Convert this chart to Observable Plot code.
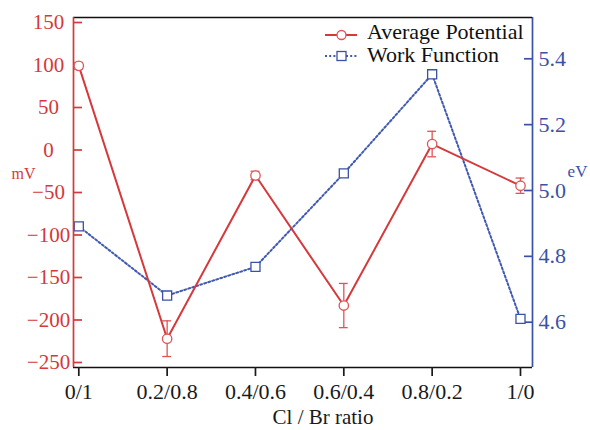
<!DOCTYPE html>
<html><head><meta charset="utf-8">
<script src="https://cdn.jsdelivr.net/npm/d3@7"></script>
<script src="https://cdn.jsdelivr.net/npm/@observablehq/plot@0.6"></script>
<style>
body{margin:0;background:#fff;}
#wrap{position:relative;width:590px;height:430px;overflow:hidden;}
#wrap svg{position:absolute;left:0;top:0;}
</style></head><body><div id="wrap"></div>
<script>
const ratios = ["0/1","0.2/0.8","0.4/0.6","0.6/0.4","0.8/0.2","1/0"];
const avgPotential = [99, -222, -30, -183, 7, -42];
const avgPotentialErr = [4, 21, 5, 26, 15, 9];
const workFunction = [4.891, 4.681, 4.768, 5.052, 5.353, 4.610];
const mVTicks = [150,100,50,0,-50,-100,-150,-200,-250];
const eVTicks = [4.6,4.8,5.0,5.2,5.4];
const seriesNames = ["Average Potential","Work Function"];

const RED = "#d5393b", RED2 = "#df5357", BLUE = "#3a52a6", BLUE2 = "#4059b2";
const xDomain = [-0.06, 5.136];
const mVDomain = [-255.9, 155.9];
const eVDomain = [4.4624, 5.5254];

const ap = ratios.map((r,i)=>({i, v: avgPotential[i], e: avgPotentialErr[i]}));
const wf = ratios.map((r,i)=>({i, v: workFunction[i]}));

const common = {
  width:590, height:430, marginTop:17, marginBottom:63, marginLeft:73, marginRight:58,
  style:{background:"transparent", fontFamily:"'Liberation Serif', 'Times New Roman', serif", overflow:"visible"}
};

const bluePlot = Plot.plot({
  ...common,
  x:{domain:xDomain, axis:null, label:null},
  y:{domain:eVDomain, axis:null, label:null},
  marks:[
    Plot.ruleX([xDomain[1]], {stroke:BLUE, strokeWidth:1.7}),
    Plot.axisY(eVTicks, {anchor:"right", tickSize:9, dx:-9, tickFormat:()=>"", color:BLUE, strokeWidth:1.7, label:null}),
    Plot.axisY(eVTicks, {anchor:"right", tickSize:0, tickPadding:6, tickFormat:d=>d.toFixed(1), color:BLUE, fontSize:22, label:null}),
    Plot.line(wf, {x:"i", y:"v", stroke:BLUE2, strokeWidth:2, strokeDasharray:"2,2.2"}),
    Plot.dot(wf, {x:"i", y:"v", symbol:"square", r:5.1, stroke:BLUE, fill:"white", strokeWidth:1.3}),
    Plot.text(["eV"], {frameAnchor:"right", text:d=>d, textAnchor:"middle", lineAnchor:"middle", dx:45, dy:-21, fill:BLUE, fontSize:17})
  ]
});

const redPlot = Plot.plot({
  ...common,
  x:{domain:xDomain, label:null},
  y:{domain:mVDomain, label:null},
  marks:[
    Plot.ruleY([mVDomain[1]], {stroke:"#111", strokeWidth:1.7}),
    Plot.ruleY([mVDomain[0]], {stroke:"#111", strokeWidth:1.7}),
    Plot.ruleX([xDomain[0]], {stroke:RED, strokeWidth:1.7}),
    Plot.axisX(d3.range(ratios.length), {tickSize:9, tickPadding:7, tickFormat:i=>ratios[i], fontSize:22, color:"#1a1a1a", strokeWidth:1.7, label:null}),
    Plot.axisY(mVTicks, {anchor:"left", tickSize:9, dx:9, tickFormat:()=>"", color:RED, strokeWidth:1.7, label:null}),
    Plot.axisY(mVTicks, {anchor:"left", tickSize:0, tickPadding:25, textAnchor:"middle", color:RED, fontSize:21, label:null}),
    Plot.ruleX(ap, {x:"i", y1:d=>d.v-d.e, y2:d=>d.v+d.e, stroke:RED2, strokeWidth:1.3}),
    Plot.ruleY(ap, {y:d=>d.v-d.e, x1:d=>d.i-0.05, x2:d=>d.i+0.05, stroke:RED2, strokeWidth:1.3}),
    Plot.ruleY(ap, {y:d=>d.v+d.e, x1:d=>d.i-0.05, x2:d=>d.i+0.05, stroke:RED2, strokeWidth:1.3}),
    Plot.line(ap, {x:"i", y:"v", stroke:RED, strokeWidth:2}),
    Plot.dot(ap, {x:"i", y:"v", r:4.7, stroke:RED2, fill:"white", strokeWidth:1.3}),
    Plot.text(["mV"], {frameAnchor:"left", text:d=>d, textAnchor:"middle", lineAnchor:"middle", dx:-50, dy:-19, fill:RED, fontSize:16}),
    Plot.text(["Cl / Br ratio"], {frameAnchor:"bottom", text:d=>d, textAnchor:"middle", lineAnchor:"middle", dx:20, dy:50, fill:"#1a1a1a", fontSize:21})
  ]
});

const wrap = document.getElementById("wrap");
wrap.appendChild(bluePlot);
wrap.appendChild(redPlot);

// legend
const lg = d3.select(wrap).append("svg").attr("width",590).attr("height",430)
  .style("font-family","'Liberation Serif', 'Times New Roman', serif");
const rows = [
  {name:seriesNames[0], y:35, base:38.5, color:RED, dash:null, sym:"circle"},
  {name:seriesNames[1], y:56, base:61.5, color:BLUE2, dash:"2,2.2", sym:"square"}
];
rows.forEach(r=>{
  lg.append("line").attr("x1",325).attr("x2",357).attr("y1",r.y).attr("y2",r.y)
    .attr("stroke",r.color).attr("stroke-width",2).attr("stroke-dasharray",r.dash);
  if(r.sym==="circle") lg.append("circle").attr("cx",341.5).attr("cy",r.y).attr("r",4.5)
    .attr("fill","white").attr("stroke",RED2).attr("stroke-width",1.3);
  else lg.append("rect").attr("x",341.5-4.5).attr("y",r.y-4.5).attr("width",9).attr("height",9)
    .attr("fill","white").attr("stroke",BLUE).attr("stroke-width",1.3);
  lg.append("text").attr("x",367).attr("y",r.base).attr("font-size",22).attr("fill","#111").text(r.name);
});
</script></body></html>
